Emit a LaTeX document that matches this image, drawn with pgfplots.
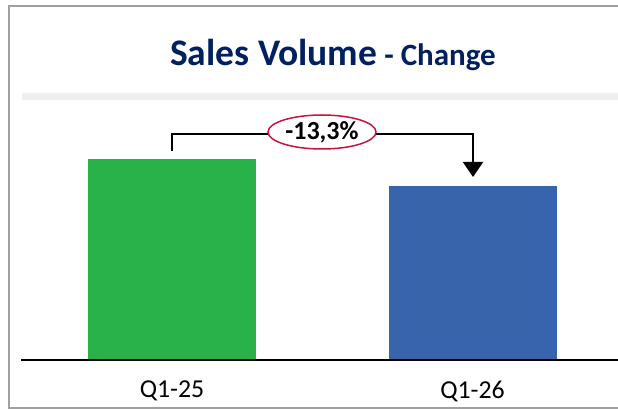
\documentclass[border=0pt]{standalone}
\usepackage{pgfplots}
\pgfplotsset{compat=1.18}
\usepackage{fontspec}
\setmainfont{Carlito}
\usetikzlibrary{arrows.meta}
\definecolor{barGreen}{RGB}{41,178,74}
\definecolor{barBlue}{RGB}{56,100,172}
\definecolor{titleNavy}{RGB}{0,32,96}
\definecolor{frameGray}{RGB}{160,160,160}
\definecolor{bandGray}{RGB}{238,238,238}
\definecolor{ovalRed}{RGB}{200,20,60}
\begin{document}
\begin{tikzpicture}
\useasboundingbox (0pt,0pt) rectangle (618pt,409pt);
\clip (0pt,0pt) rectangle (618pt,409pt);
\fill[white] (0pt,0pt) rectangle (618pt,409pt);
% frame
\draw[frameGray, line width=2pt] (9pt,1pt) rectangle (660pt,403pt);
% grey band under title
\fill[bandGray] (22pt,309pt) rectangle (640pt,316pt);
% title
\node[anchor=base, text=titleNavy, inner sep=0pt] at (333pt,343pt)
  {\bfseries\fontsize{37.5}{40}\selectfont Sales Volume\fontsize{31}{34}\selectfont{} - Change};
\begin{axis}[
  at={(21pt,49pt)}, anchor=south west,
  scale only axis,
  width=601.8pt, height=221.1pt,
  xmin=-0.5025, xmax=1.5,
  ymin=0, ymax=110,
  enlargelimits=false,
  axis x line=bottom,
  axis y line=none,
  axis line style={-, black, line width=1.5pt},
  xtick={0,1},
  xticklabels={Q1-25,Q1-26},
  xtick style={draw=none},
  major tick length=0pt,
  xticklabel style={font=\fontsize{25.8}{28}\selectfont, inner sep=0pt, yshift=-20.5pt, text=black},
  ytick=\empty,
  clip=false,
  axis on top,
]
\addplot[ybar, bar width=168pt, bar shift=0pt, fill=barGreen, draw=none] coordinates {(0,100)};
\addplot[ybar, bar width=168pt, bar shift=0pt, fill=barBlue, draw=none] coordinates {(1,86.7)};
\end{axis}
% change bracket
\draw[black, line width=2pt, -{Triangle[width=20pt,length=15pt]}]
  (172pt,258pt) -- (172pt,275pt) -- (473pt,275pt) -- (473pt,232pt);
\draw[ovalRed, line width=1.5pt, fill=white] (322pt,277pt) ellipse [x radius=54pt, y radius=17pt];
\node[inner sep=0pt] at (322pt,277pt) {\bfseries\fontsize{26}{28}\selectfont -13,3\%};
\end{tikzpicture}
\end{document}
